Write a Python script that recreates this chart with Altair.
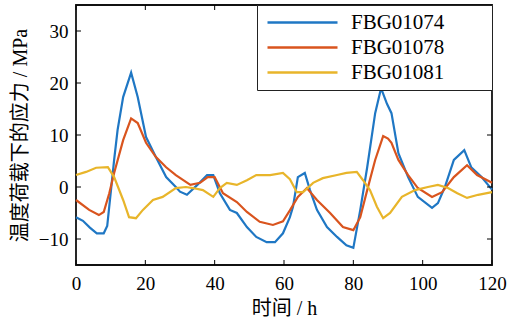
import altair as alt
import pandas as pd

# Stress under temperature load for three FBG sensors
series_names = ["FBG01074", "FBG01078", "FBG01081"]
series_colors = ["#1f77c4", "#d9541e", "#e8b52a"]

hours_1074 = [0, 2, 4, 6, 8, 9, 10, 11, 12, 13.6, 15.9, 17.8, 20.2, 23, 26, 28.8,
              30, 32, 35, 37.8, 39.6, 41.5, 44.4, 46.4, 49.3, 52, 55, 57.4, 59.7,
              61.7, 62.6, 64, 66, 67.5, 69.5, 72.4, 75.3, 78, 80, 82, 84, 86.3, 88,
              89.7, 91, 93, 95.8, 98.6, 102.7, 104.4, 106.4, 109, 112, 114, 117, 120]
stress_1074 = [-5.8, -6.5, -7.8, -8.9, -8.9, -7.5, -1.2, 5.2, 11, 17.3, 22, 17.3,
               9.6, 5.8, 1.9, 0, -0.9, -1.5, 0.4, 2.3, 2.3, -1.2, -4.4, -5, -7.7,
               -9.6, -10.6, -10.6, -8.9, -5.8, -3.8, 1.9, 2.7, -0.6, -4.4, -7.7,
               -9.6, -11.2, -11.7, -4.4, 3.8, 14.2, 19, 16, 14.2, 6.5, 1.9, -1.9,
               -4, -3.1, 0, 5.2, 7.1, 3.8, 1.9, -0.5]

hours_1078 = [0, 3.8, 6.6, 8, 9.6, 11, 13.6, 15.9, 17.8, 20.2, 23, 26, 28.8, 31.7,
              33, 35.8, 38, 40, 42.4, 46.4, 49.3, 53, 56.8, 59.7, 61.7, 64, 66.6,
              69.5, 73.3, 77, 80, 82, 84, 86.3, 88.6, 90, 91, 93, 95.8, 98.6,
              102.7, 105.6, 109, 112.8, 115.7, 120]
stress_1078 = [-2.5, -4.4, -5.4, -4.8, -1.2, 2.7, 9, 13.2, 12.3, 8.5, 5.8, 3.8, 2.3,
               1, 0.4, 0.8, 1.9, 1.9, -1.2, -2.9, -4.8, -6.7, -7.3, -6.6, -4.5,
               -1.9, -0.2, -2.5, -5, -7.7, -8.3, -5.8, -0.6, 5.2, 9.8, 9.3, 8.5,
               5.2, 2.3, -0.2, -1.9, -1, 1.9, 4.2, 2.3, 0.8]

hours_1081 = [0, 2.9, 5.8, 9.2, 11, 13.6, 15.3, 17.3, 19.3, 22.2, 25, 28.8, 31.7,
              33.7, 36.6, 39.6, 41.5, 43.5, 46.4, 49.3, 52, 56, 59.7, 61.7, 63.7,
              65.5, 68.4, 71.2, 75.3, 78, 81, 82.8, 84.8, 86.8, 88.6, 90.6, 94,
              97.8, 101.5, 104.4, 107.3, 110, 112.8, 116, 120]
stress_1081 = [2.3, 2.9, 3.7, 3.8, 1.9, -2.5, -5.8, -6, -4.4, -2.5, -1.9, -0.2, 0,
               -0.2, -0.6, -1.9, -0.2, 0.8, 0.4, 1.3, 2.3, 2.3, 2.7, 1.5, -1, -1,
               0.8, 1.7, 2.3, 2.7, 2.9, 1.3, -0.6, -3.8, -6, -5, -1.9, -0.6, 0,
               0.4, -0.2, -1.2, -2.1, -1.5, -1]

x_ticks = [0, 20, 40, 60, 80, 100, 120]
y_ticks = [-10, 0, 10, 20, 30]

frames = []
for name, hs, vs in [(series_names[0], hours_1074, stress_1074),
                     (series_names[1], hours_1078, stress_1078),
                     (series_names[2], hours_1081, stress_1081)]:
    frames.append(pd.DataFrame({"h": hs, "v": vs, "sensor": name, "order": range(len(hs))}))
df = pd.concat(frames, ignore_index=True)

W, H = 416, 260
serif = "Liberation Serif, Noto Sans CJK SC"
x_title = "时间 / h"
y_title = "温度荷载下的应力 / MPa"

x_scale = alt.Scale(domain=[0, 120], nice=False, zero=False)
y_scale = alt.Scale(domain=[-15, 35], nice=False, zero=False)
x_axis = alt.Axis(values=x_ticks, tickSize=0, labelPadding=9, domain=False,
                  grid=False, titlePadding=5, labelFlush=False)
y_axis = alt.Axis(values=y_ticks, tickSize=0, labelPadding=8, domain=False,
                  grid=False, titlePadding=8, labelFlush=False)

# trailing blank room after each legend label (kept by a zero-width end mark)
label_pad = "\u00a0" * 8 + "\u200b"

lines = alt.Chart(df).mark_line(strokeWidth=2.2).encode(
    x=alt.X("h:Q", scale=x_scale, title=x_title, axis=x_axis),
    y=alt.Y("v:Q", scale=y_scale, title=y_title, axis=y_axis),
    color=alt.Color("sensor:N",
                    scale=alt.Scale(domain=series_names, range=series_colors),
                    legend=alt.Legend(title=None, orient="top-right", offset=0,
                                      symbolType="stroke", symbolSize=4900,
                                      symbolStrokeWidth=2.4, clipHeight=25,
                                      symbolOffset=4,
                                      labelFont="Liberation Serif", labelFontSize=21,
                                      labelColor="black", labelOffset=12,
                                      labelExpr=f"datum.label + '{label_pad}'",
                                      padding=5, strokeColor="#222222",
                                      fillColor="white", rowPadding=0)),
    order="order:Q",
)

y_tick_df = pd.DataFrame({"v": y_ticks})
x_tick_df = pd.DataFrame({"h": x_ticks})

tick_y_left = alt.Chart(y_tick_df).mark_rule(color="black", strokeWidth=1).encode(
    y=alt.Y("v:Q", scale=y_scale, title=y_title, axis=y_axis), x=alt.value(0), x2=alt.value(5))
tick_y_right = alt.Chart(y_tick_df).mark_rule(color="black", strokeWidth=1).encode(
    y=alt.Y("v:Q", scale=y_scale, title=y_title, axis=y_axis), x=alt.value(W - 5), x2=alt.value(W))
tick_x_bottom = alt.Chart(x_tick_df).mark_rule(color="black", strokeWidth=1).encode(
    x=alt.X("h:Q", scale=x_scale, title=x_title, axis=x_axis), y=alt.value(H - 5), y2=alt.value(H))
tick_x_top = alt.Chart(x_tick_df).mark_rule(color="black", strokeWidth=1).encode(
    x=alt.X("h:Q", scale=x_scale, title=x_title, axis=x_axis), y=alt.value(0), y2=alt.value(5))

chart = alt.layer(lines, tick_y_left, tick_y_right, tick_x_bottom, tick_x_top).properties(
    width=W, height=H,
    background="white",
    autosize=alt.AutoSizeParams(type="none"),
    padding={"left": 76, "top": 5, "right": 17, "bottom": 59},
).configure_view(
    stroke="#111111", strokeWidth=1.8
).configure_axis(
    labelFont="Liberation Serif", labelFontSize=19, labelColor="black",
    titleFont=serif, titleFontSize=20, titleFontWeight="normal", titleColor="black",
)

chart.save("out.html", embed_options={"renderer": "svg", "actions": False})
